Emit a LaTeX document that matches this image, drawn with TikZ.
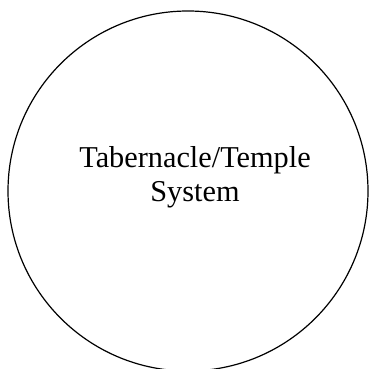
\documentclass[tikz,border=0pt]{standalone}
\usepackage{fontspec}
\setmainfont{Liberation Serif}
\usetikzlibrary{positioning}

\begin{document}
\begin{tikzpicture}[x=1pt,y=1pt,
  sys/.style={circle,draw=black,line width=1.2pt,minimum size=360pt,inner sep=0pt},
  lbl/.style={align=center,font=\fontsize{30.3}{34}\selectfont},
]
\useasboundingbox (0,0) rectangle (369,369);
\node[sys] (system) at (188,178) {};
\node[lbl] (name) at (195,192) {Tabernacle/Temple\\System};
\end{tikzpicture}
\end{document}
